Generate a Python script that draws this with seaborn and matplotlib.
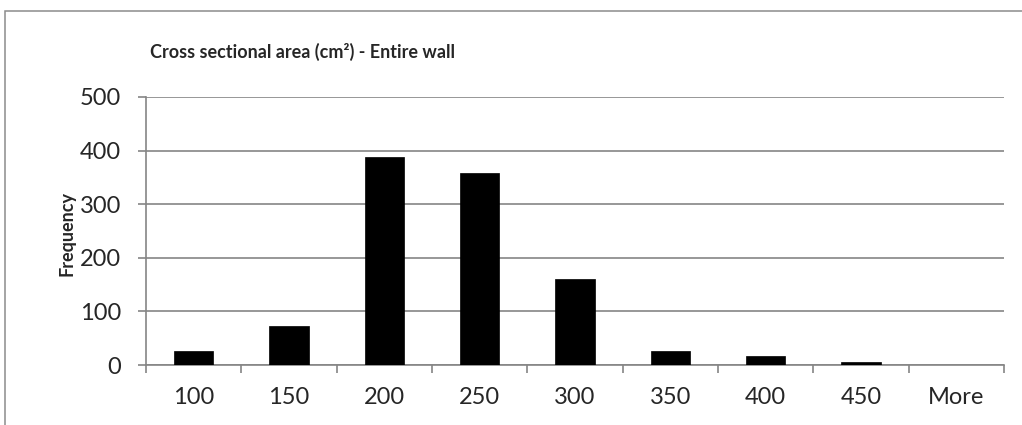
import matplotlib
matplotlib.use("Agg")
import matplotlib.pyplot as plt
from matplotlib.patches import Rectangle
from matplotlib.ticker import FixedLocator
import seaborn as sns
import pandas as pd
import numpy as np

# Histogram bins (upper bin edge, cm²) and counts
bins = ["100", "150", "200", "250", "300", "350", "400", "450", "More"]
frequency = [27, 73, 388, 358, 161, 26, 17, 5, 0]
title = "Cross sectional area (cm\u00b2) - Entire wall"
y_label = "Frequency"
y_ticks = [0, 100, 200, 300, 400, 500]

sns.set_style("white")
plt.rcParams["font.family"] = ["Lato", "DejaVu Sans"]

W, H = 1022, 425
fig = plt.figure(figsize=(W / 100, H / 100), dpi=100)
ax = fig.add_axes([146 / W, 1 - 365 / H, (1004 - 146) / W, (365 - 97) / H])

df = pd.DataFrame({"bin": bins, "freq": frequency})
sns.barplot(data=df, x="bin", y="freq", color="black", width=0.41,
            saturation=1, edgecolor="black", linewidth=0.5, ax=ax, zorder=3)

grid_c = "#858585"
ax.set_ylim(0, 500)
ax.set_xlim(-0.5, len(bins) - 0.5)
ax.set_yticks(y_ticks)
ax.yaxis.grid(True, color=grid_c, linewidth=1.2, zorder=0)
ax.xaxis.grid(False)
ax.set_axisbelow(True)

for side in ["top", "right"]:
    ax.spines[side].set_visible(False)
for side in ["left", "bottom"]:
    ax.spines[side].set_color(grid_c)
    ax.spines[side].set_linewidth(1.2)

# category boundary ticks on the x axis
ax.xaxis.set_minor_locator(FixedLocator(np.arange(-0.5, len(bins), 1.0)))
ax.tick_params(axis="x", which="major", length=0, pad=16, labelsize=17)
ax.tick_params(axis="x", which="minor", length=6, width=1.2, color=grid_c,
               direction="out", bottom=True)
ax.tick_params(axis="y", which="major", length=6, width=1.2, color=grid_c,
               direction="out", left=True, pad=12, labelsize=17)
ax.set_xlabel("")
ax.set_ylabel("")

fig.text(150 / W, 1 - 52 / H, title, ha="left", va="center",
         fontweight="bold", fontsize=13)
fig.text(67 / W, 1 - 233 / H, y_label, rotation=90, ha="center", va="center",
         fontweight="bold", fontsize=13)

# chart area border
fig.add_artist(Rectangle((5.3 / W, -0.1), 1.2, 1 - 10.7 / H + 0.1,
                         transform=fig.transFigure, fill=False,
                         edgecolor="#8c8c8c", linewidth=1.1))

fig.savefig("out.png", dpi=100)
